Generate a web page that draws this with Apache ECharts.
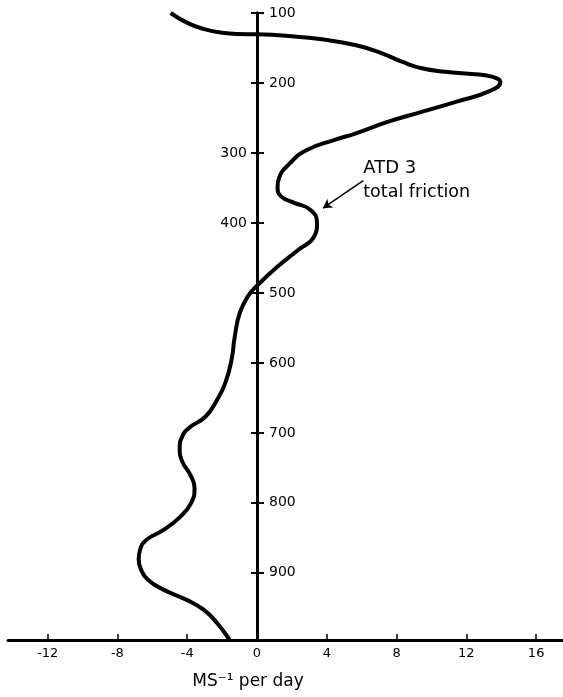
<!DOCTYPE html>
<html>
<head>
<meta charset="utf-8">
<script src="https://cdn.jsdelivr.net/npm/echarts@6/dist/echarts.min.js"></script>
<style>
  html, body { margin: 0; padding: 0; background: #fff; }
  #chart { width: 563px; height: 697px; }
</style>
</head>
<body>
<div id="chart"></div>
<script>
// Total friction profile (ATD 3): zonal wind tendency against pressure level
const pressureLevels = [
  100, 114.9, 123.4, 128.1, 130.0, 130.4, 132.9, 137.6, 145.7, 157.6, 169.6, 179.0, 183.9, 187.1, 191.0,
  199, 212, 227, 241, 255, 272, 281, 296, 315, 336, 349, 362, 371, 381, 400, 420,
  439, 462, 489, 505, 529, 562, 596, 629, 653, 677, 693, 706, 722, 740, 760,
  779, 800, 820, 839, 853, 867, 881, 895, 910, 924, 939, 953, 972, 991, 996
];
const totalFriction = [
  -4.95, -3.93, -2.97, -2.01, -1.06, 0.0, 1.81, 3.72, 5.63, 7.16, 8.31, 9.45, 10.8, 12.3, 13.45,
  13.95, 13.3, 11.4, 9.48, 7.57, 5.67, 4.5, 2.83, 1.88, 1.26, 1.18, 1.38, 2.1, 3.05, 3.44, 3.26,
  2.34, 1.2, 0.03, -0.52, -0.99, -1.27, -1.46, -1.82, -2.29, -2.96, -3.9, -4.3, -4.43, -4.3, -3.82,
  -3.58, -3.77, -4.4, -5.38, -6.34, -6.7, -6.78, -6.65, -6.25, -5.36, -4.0, -3.04, -2.28, -1.70, -1.58
];

// Axis ticks and labels
const xTickLabels = [-12, -8, -4, 0, 4, 8, 12, 16];
const xTickMarks = [-12, -8, -4, 4, 8, 12, 16];
const pressureTicks = [100, 200, 300, 400, 500, 600, 700, 800, 900];
const leftSideLabels = [300, 400];

// Annotation text
const curveTitle = 'ATD 3';
const curveSubtitle = 'total friction';
const xAxisTitle = 'MS\u207B\u00B9 per day';

const font = 'DejaVu Sans';
const ink = '#000';
const gridLeft = 8;

const seriesData = pressureLevels.map((p, i) => [totalFriction[i], p]);

const chart = echarts.init(document.getElementById('chart'), null, { renderer: 'canvas' });

function pressureAxis(labelsInside, labelValues, tickInside, tickLength) {
  return {
    type: 'value',
    inverse: true,
    min: 100,
    max: 996,
    position: 'left',
    offset: 0,
    axisLine: { onZero: false, lineStyle: { color: ink, width: 3 } },
    axisTick: { inside: tickInside, length: tickLength, customValues: pressureTicks,
                lineStyle: { color: ink, width: 2 } },
    axisLabel: { inside: labelsInside, margin: labelsInside ? 12 : 10, color: ink,
                 fontSize: 14, fontFamily: font, customValues: labelValues },
    splitLine: { show: false }
  };
}

const option = {
  backgroundColor: '#fff',
  animation: false,
  grid: { left: gridLeft, right: 0, top: 13, bottom: 57, outerBoundsMode: 'none', containLabel: false },
  xAxis: {
    type: 'value',
    min: -14.27,
    max: 17.54,
    position: 'bottom',
    axisLine: { onZero: false, lineStyle: { color: ink, width: 3 } },
    axisTick: { inside: true, length: 6, customValues: xTickMarks, lineStyle: { color: ink, width: 1.5 } },
    axisLabel: { customValues: xTickLabels, margin: 7, color: ink, fontSize: 13, fontFamily: font },
    splitLine: { show: false },
    name: xAxisTitle,
    nameLocation: 'middle',
    nameGap: 33,
    nameTextStyle: { color: ink, fontSize: 17, fontFamily: font, padding: [0, 75, 0, 0] }
  },
  yAxis: [
    // labels to the right of the vertical axis
    pressureAxis(true, pressureTicks.filter(v => !leftSideLabels.includes(v)), true, 7),
    // labels to the left of the vertical axis
    pressureAxis(false, leftSideLabels, false, 6)
  ],
  series: [
    {
      type: 'line',
      data: seriesData,
      yAxisIndex: 0,
      showSymbol: false,
      symbol: 'none',
      smooth: 0.5,
      clip: false,
      lineStyle: { color: ink, width: 4 },
      markLine: {
        silent: true,
        symbol: ['none', 'arrow'],
        symbolSize: [8, 9],
        label: { show: false },
        lineStyle: { color: ink, width: 1.5, type: 'solid' },
        data: [[{ coord: [6.09, 339.6] }, { coord: [3.78, 379] }]]
      },
      markPoint: {
        silent: true,
        symbol: 'circle',
        symbolSize: 0,
        data: [
          {
            coord: [6.09, 321.4],
            label: { show: true, position: 'right', distance: 0, formatter: curveTitle,
                     color: ink, fontSize: 18, fontFamily: font }
          },
          {
            coord: [6.09, 357],
            label: { show: true, position: 'right', distance: 0, formatter: curveSubtitle,
                     color: ink, fontSize: 17.5, fontFamily: font }
          }
        ]
      }
    }
  ]
};

chart.setOption(option);

// Place the vertical pressure axis at zero of the horizontal axis
const zeroPx = chart.convertToPixel({ xAxisIndex: 0 }, 0);
const shift = gridLeft - zeroPx;
chart.setOption({ yAxis: [{ offset: shift }, { offset: shift }] });
</script>
</body>
</html>
